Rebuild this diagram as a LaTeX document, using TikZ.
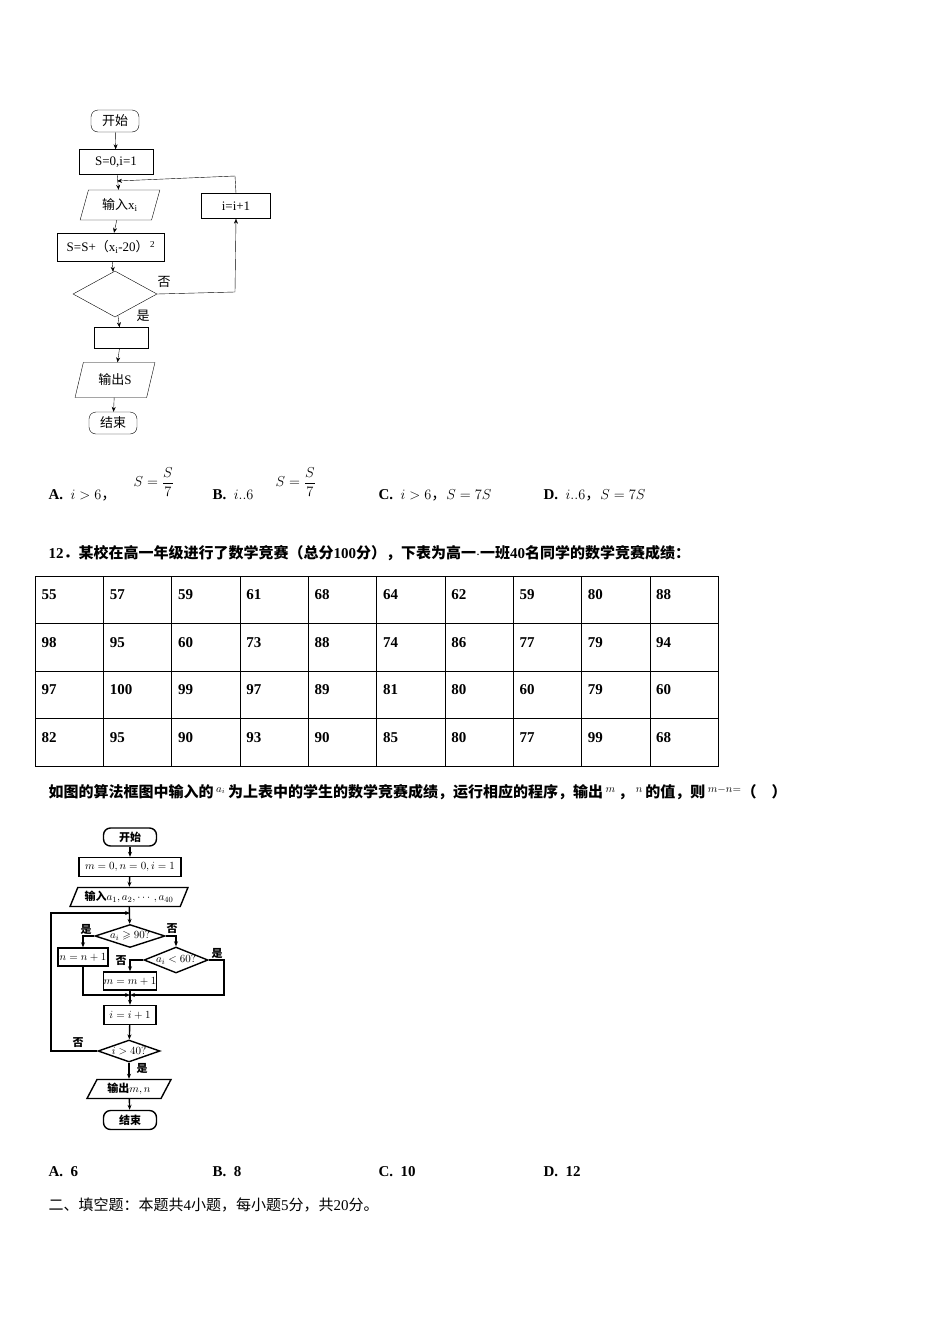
\documentclass[tikz,border=0pt]{standalone}
\usepackage{fontspec}
\usepackage{amsmath,amssymb}
\setmainfont{Liberation Serif}
\newfontfamily\cjk{Noto Sans CJK SC}
\usetikzlibrary{shapes.geometric,arrows.meta}
\tikzset{
  box/.style={draw, minimum width=#1, minimum height=25, inner sep=0},
  io/.style={draw, trapezium, trapezium left angle=70, trapezium right angle=110,
    trapezium stretches=true, minimum width=#1, minimum height=30, inner sep=0},
  term/.style={draw, rounded corners=7, minimum width=48, minimum height=22, inner sep=0},
  test/.style={draw, diamond, aspect=#1, inner sep=0},
  flow/.style={-{Stealth[length=5pt,width=4pt]}},
  bold/.style={line width=1.4pt}
}
\begin{document}
\begin{tikzpicture}[x=1pt, y=-1pt, font=\fontsize{13}{15}\selectfont]
\useasboundingbox[fill=white] (0,0) rectangle (950,1344);
% first flowchart
\node [term] (start) at (115,121) {\cjk 开始};
\node [box=74] (init) at (116,162) {S=0,i=1};
\node [io=80] (input) at (120,205) {\cjk 输入\rmfamily x\textsubscript{i}};
\node [box=69] (inc) at (236,206) {i=i+1};
\node [box=107, minimum height=28] (sum) at (111,247) {S=S+\cjk（\rmfamily x\textsubscript{i}-20\cjk）\rmfamily\textsuperscript{\,2}};
\node [test=1.8, minimum width=84, minimum height=46] (cond) at (115,294) {};
\node [box=54, minimum height=21] (blank) at (121,338) {};
\node [io=80, minimum height=35] (output) at (115,380) {\cjk 输出\rmfamily S};
\node [term] (stop) at (113,423) {\cjk 结束};
\coordinate (join) at (117,181);
\draw [flow] (start) -- (init);
\draw [flow] (init) -- (input);
\draw [flow] (input) -- (sum);
\draw [flow] (sum) -- (cond);
\draw [flow] (cond) -- (blank);
\draw [flow] (blank) -- (output);
\draw [flow] (output) -- (stop);
\draw [flow] (cond.east) -- (235,292) -- (inc.south);
\draw [flow] (inc.north) -- (235,176) -- (join);
\node at (164,282) {\cjk 否};
\node at (143,316) {\cjk 是};
% choices
\begin{scope}[font=\fontsize{15}{17}\selectfont]
\node [anchor=west] (ca) at (45,495) {\textbf{A.}\enspace $i>6$\cjk，};
\node [anchor=west] (fa) at (130,482) {$S=\dfrac{S}{7}$};
\node [anchor=west] (cb) at (209,495) {\textbf{B.}\enspace $i..6$};
\node [anchor=west] (fb) at (272,482) {$S=\dfrac{S}{7}$};
\node [anchor=west] (cc) at (375,495) {\textbf{C.}\enspace $i>6$\cjk，\rmfamily$S=7S$};
\node [anchor=west] (cd) at (540,495) {\textbf{D.}\enspace $i..6$\cjk，\rmfamily$S=7S$};
% problem 12
\node [anchor=west] (q12) at (45,553) {\bfseries 12\cjk．某校在高一年级进行了数学竞赛（总分\rmfamily\bfseries 100\cjk 分），下表为高一$\cdot$一班\rmfamily\bfseries 40\cjk 名同学的数学竞赛成绩：};
\end{scope}
% table
\draw (35,576) rectangle (718,766);
\foreach \k in {1,...,9} \draw ({35+68.3*\k},576) -- ({35+68.3*\k},766);
\foreach \r in {1,2,3} \draw (35,{576+47.5*\r}) -- (718,{576+47.5*\r});
\foreach \row [count=\r from 0] in {
  {55,57,59,61,68,64,62,59,80,88},
  {98,95,60,73,88,74,86,77,79,94},
  {97,100,99,97,89,81,80,60,79,60},
  {82,95,90,93,90,85,80,77,99,68}}
  \foreach \v [count=\c from 0] in \row
    \node [anchor=west, font=\fontsize{15}{17}\bfseries] (t\r\c) at ({38+68.3*\c},{595+47.5*\r}) {\v};
\node [anchor=west, font=\fontsize{15}{17}\selectfont] (q12b) at (45,792)
  {\bfseries\cjk 如图的算法框图中输入的\rmfamily\mdseries\,$^{a_i}$\,\cjk\bfseries 为上表中的学生的数学竞赛成绩，运行相应的程序，输出\rmfamily\mdseries\,$^m$\,\cjk\bfseries，\rmfamily\mdseries\,$^n$\,\cjk\bfseries 的值，则\rmfamily\mdseries\,$^{m-n=}$\cjk\bfseries（　）};
% second flowchart
\begin{scope}[font=\fontsize{11}{13}\bfseries, bold]
\node [term, minimum width=53, minimum height=18] (begin) at (130,837) {\cjk 开始};
\node [box=102, minimum height=19] (setup) at (130,867) {$m=0,n=0,i=1$};
\node [io=118, minimum height=19, trapezium left angle=60, trapezium right angle=120] (read) at (129,897) {\cjk 输入\rmfamily$a_1,a_2,\cdots,a_{40}$};
\node [test=3, minimum width=70, minimum height=23] (high) at (130,936) {$a_i\geqslant 90?$};
\node [box=50, minimum height=18] (addn) at (83,957) {$n=n+1$};
\node [test=2.5, minimum width=64, minimum height=26] (low) at (176,960) {$a_i<60?$};
\node [box=53, minimum height=18] (addm) at (130,981) {$m=m+1$};
\node [box=52, minimum height=19] (next) at (130,1015) {$i=i+1$};
\node [test=2.8, minimum width=62, minimum height=22] (done) at (129,1051) {$i>40?$};
\node [io=84, minimum height=19, trapezium left angle=60, trapezium right angle=120] (print) at (129,1089) {\cjk 输出\rmfamily$m,n$};
\node [term, minimum width=53, minimum height=19] (end) at (130,1120) {\cjk 结束};
\coordinate (loop) at (130,913);
\coordinate (merge) at (130,995);
\draw [flow] (begin) -- (setup);
\draw [flow] (setup) -- (read);
\draw [flow] (read) -- (high);
\draw [flow] (high.west) -| (addn.north);
\draw [flow] (high.east) -| (low.north);
\draw [flow] (low.west) -| (addm.north);
\draw [flow] (low.east) -- (224,960) -- (224,995) -- (merge);
\draw [flow] (addn.south) |- (merge);
\draw (addm) -- (merge);
\draw [flow] (merge) -- (next);
\draw [flow] (next) -- (done);
\draw [flow] (done.west) -- (51,1051) -- (51,913) -- (loop);
\draw [flow] (done) -- (print);
\draw [flow] (print) -- (end);
\node at (86,929) {\cjk 是};
\node at (172,929) {\cjk 否};
\node at (217,953) {\cjk 是};
\node at (121,961) {\cjk 否};
\node at (78,1043) {\cjk 否};
\node at (142,1068) {\cjk 是};
\end{scope}
% answers
\begin{scope}[font=\fontsize{15}{17}\bfseries]
\node [anchor=west] (aa) at (45,1172) {A.\enspace 6};
\node [anchor=west] (ab) at (209,1172) {B.\enspace 8};
\node [anchor=west] (ac) at (375,1172) {C.\enspace 10};
\node [anchor=west] (ad) at (540,1172) {D.\enspace 12};
\node [anchor=west, font=\fontsize{15}{17}\selectfont] (part2) at (45,1205) {\cjk 二、填空题：本题共\rmfamily 4\cjk 小题，每小题\rmfamily 5\cjk 分，共\rmfamily 20\cjk 分。};
\end{scope}
\end{tikzpicture}
\end{document}
